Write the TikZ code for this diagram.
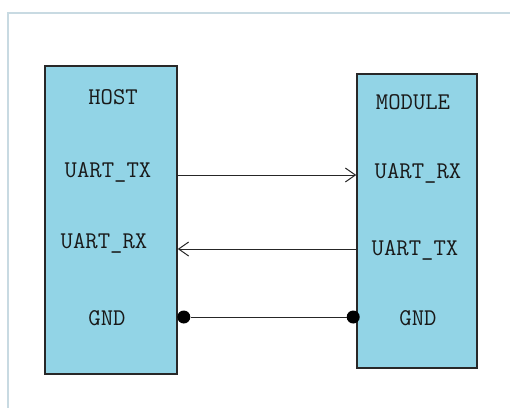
\documentclass[tikz,border=0pt]{standalone}
\usepackage{fontspec}
\usetikzlibrary{arrows.meta}
\definecolor{boxfill}{RGB}{146,212,230}
\definecolor{framec}{RGB}{200,218,226}
\definecolor{edgec}{RGB}{40,40,40}
\begin{document}
\begin{tikzpicture}[x=1pt,y=-1pt,
  block/.style={draw=edgec,line width=1.6pt,fill=boxfill},
  lbl/.style={font=\ttfamily\fontsize{24}{24}\selectfont,text=black!90,inner sep=0pt,anchor=center},
  sig/.style={line width=1pt,draw=black!85},
  barb/.style={-{Straight Barb[length=10pt,width=14pt,line width=1pt]}},
  dotc/.style={circle,fill=black,inner sep=0pt,minimum size=13pt}]
\useasboundingbox (0,0) rectangle (510,408);
\fill[white] (0,0) rectangle (510,408);
\draw[framec,line width=1.2pt] (510,13) -- (8,13) -- (8,408);
\node[block,minimum width=132pt,minimum height=308pt,inner sep=0pt] (host) at (111,220) {};
\node[block,minimum width=120pt,minimum height=294pt,inner sep=0pt] (module) at (417,221) {};
\node[lbl] (hhost) at (113,97) {HOST};
\node[lbl] (htx) at (108,172) {UART\_TX};
\node[lbl] (hrx) at (104,243) {UART\_RX};
\node[lbl] (hgnd) at (107,318) {GND};
\node[lbl] (mmod) at (413,102) {MODULE};
\node[lbl] (mrx) at (418,173) {UART\_RX};
\node[lbl] (mtx) at (415,250) {UART\_TX};
\node[lbl] (mgnd) at (418,318) {GND};
\coordinate (a1) at (host.east |- 0,175);
\coordinate (a2) at (module.west |- 0,175);
\coordinate (b1) at (module.west |- 0,249);
\coordinate (b2) at (host.east |- 0,249);
\coordinate (c1) at (host.east |- 0,317);
\coordinate (c2) at (module.west |- 0,317);
\draw[sig,barb] (a1) -- (a2);
\draw[sig,barb] (b1) -- (b2);
\node[dotc] (d1) at ([xshift=6pt]c1) {};
\node[dotc] (d2) at ([xshift=-3pt]c2) {};
\draw[sig] (d1) -- (d2);
\end{tikzpicture}
\end{document}
